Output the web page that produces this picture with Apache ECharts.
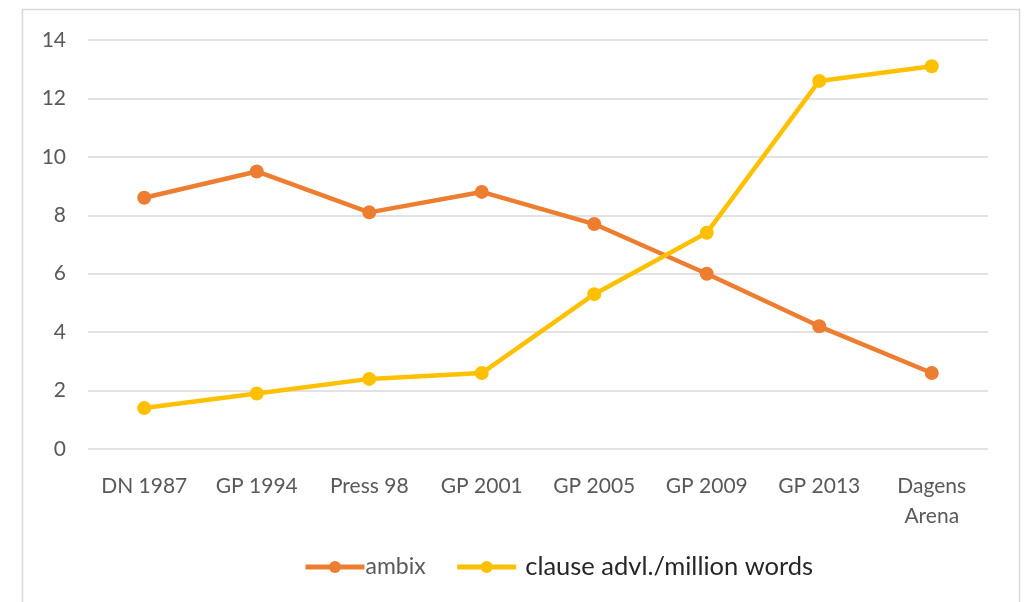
<!DOCTYPE html>
<html><head><meta charset="utf-8">
<script src="https://cdn.jsdelivr.net/npm/echarts@6/dist/echarts.min.js"></script>
<style>html,body{margin:0;padding:0;background:#fff}#c{width:1024px;height:602px}</style>
</head><body><div id="c"></div>
<script>
var categories = ['DN 1987','GP 1994','Press 98','GP 2001','GP 2005','GP 2009','GP 2013','Dagens\nArena'];
var ambix = [8.6, 9.5, 8.1, 8.8, 7.7, 6.0, 4.2, 2.6];
var clauseAdvl = [1.4, 1.9, 2.4, 2.6, 5.3, 7.4, 12.6, 13.1];
var yTicks = {min: 0, max: 14, interval: 2};
var font = 'Lato, "Open Sans", sans-serif';
var chart = echarts.init(document.getElementById('c'), null, {renderer:'canvas'});
chart.setOption({
  animation: false,
  backgroundColor: '#fff',
  graphic: [{type:'rect', shape:{x:22.5,y:9.5,width:997,height:620}, style:{fill:'none',stroke:'#d9d9d9',lineWidth:1.5}, silent:true}],
  grid: {left: 88, right: 36, top: 40, bottom: 153},
  legend: {
    top: 554, left: 303, padding: 0, itemGap: 29, itemWidth: 59, itemHeight: 15, itemStyle: {},
    lineStyle: {width: 5},
    textStyle: {fontFamily: font, fontSize: 24, color: '#404040'},
    data: [
      {name:'ambix', textStyle:{fontSize: 23, color:'#595959', padding:[0,0,0,-4]}},
      {name:'clause advl./million words', textStyle:{fontSize: 25.5, color:'#262626', padding:[0,0,0,4]}}
    ]
  },
  xAxis: {
    type: 'category', data: categories, boundaryGap: true,
    axisLine: {show:false}, axisTick: {show:false},
    axisLabel: {fontFamily: font, fontSize: 21, color: '#595959', margin: 22, lineHeight: 30, interval: 0}
  },
  yAxis: {
    type: 'value', min: yTicks.min, max: yTicks.max, interval: yTicks.interval,
    axisLine: {show:false}, axisTick: {show:false},
    axisLabel: {fontFamily: font, fontSize: 21, color: '#595959', margin: 22},
    splitLine: {lineStyle: {color: '#d9d9d9', width: 1.5}}
  },
  series: [
    {name:'ambix', type:'line', data: ambix, color:'#ED7D31', symbol:'circle', symbolSize: 14,
     lineStyle:{width:4.5, color:'#ED7D31'}, itemStyle:{color:'#ED7D31'}},
    {name:'clause advl./million words', type:'line', data: clauseAdvl, color:'#FFC000', symbol:'circle', symbolSize: 14,
     lineStyle:{width:4.5, color:'#FFC000'}, itemStyle:{color:'#FFC000'}}
  ]
});
</script></body></html>
